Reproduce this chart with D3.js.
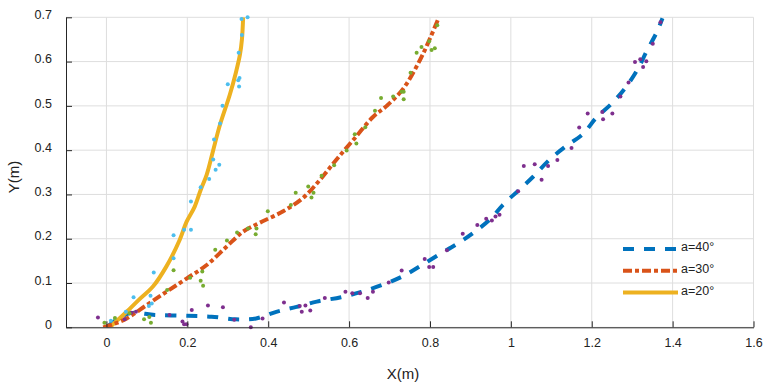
<!DOCTYPE html>
<html>
<head>
<meta charset="utf-8">
<script src="https://cdn.jsdelivr.net/npm/d3@7"></script>
<style>
  body { margin: 0; background: #fff; }
  text { font-family: "Liberation Sans", Arial, sans-serif; fill: #222; }
</style>
</head>
<body>
<svg></svg>
<script>
const width = 765;
const height = 386;

// fitted curves
const blueX = [0.0, 0.03, 0.06, 0.12, 0.2, 0.26, 0.32, 0.37, 0.42, 0.47, 0.52, 0.58, 0.63, 0.68, 0.73, 0.77, 0.82, 0.87, 0.91, 0.95, 0.98, 1.02, 1.055, 1.095, 1.135, 1.18, 1.21, 1.25, 1.285, 1.315, 1.335, 1.36, 1.375];
const blueY = [0.0, 0.02, 0.032, 0.028, 0.026, 0.024, 0.018, 0.02, 0.035, 0.046, 0.058, 0.068, 0.08, 0.095, 0.114, 0.135, 0.163, 0.19, 0.215, 0.245, 0.276, 0.31, 0.34, 0.378, 0.408, 0.438, 0.472, 0.506, 0.543, 0.585, 0.622, 0.665, 0.698];
const orangeX = [-0.008, 0.02, 0.05, 0.099, 0.148, 0.198, 0.247, 0.297, 0.338, 0.379, 0.437, 0.486, 0.528, 0.569, 0.614, 0.659, 0.693, 0.734, 0.775, 0.80, 0.822];
const orangeY = [0, 0.008, 0.02, 0.05, 0.08, 0.11, 0.14, 0.182, 0.216, 0.236, 0.262, 0.292, 0.333, 0.379, 0.427, 0.475, 0.50, 0.539, 0.603, 0.652, 0.70];
const yellowX = [0.008, 0.03, 0.05, 0.08, 0.115, 0.148, 0.181, 0.198, 0.218, 0.233, 0.248, 0.264, 0.280, 0.305, 0.320, 0.330, 0.335, 0.338];
const yellowY = [0, 0.018, 0.035, 0.062, 0.092, 0.137, 0.197, 0.238, 0.272, 0.31, 0.345, 0.40, 0.455, 0.525, 0.575, 0.615, 0.65, 0.70];

// measured points
const purplePts = [[-0.021,0.022],[0.045,0.018],[0.062,0.033],[0.073,0.035],[0.156,0.028],[0.188,0.013],[0.192,0.007],[0.198,0.007],[0.211,0.039],[0.251,0.049],[0.288,0.045],[0.316,0.017],[0.357,0.0],[0.386,0.02],[0.439,0.056],[0.478,0.048],[0.492,0.049],[0.483,0.035],[0.504,0.038],[0.540,0.066],[0.591,0.080],[0.608,0.077],[0.627,0.077],[0.646,0.066],[0.659,0.080],[0.698,0.101],[0.730,0.128],[0.787,0.154],[0.798,0.136],[0.808,0.136],[0.842,0.174],[0.881,0.211],[0.917,0.231],[0.939,0.245],[0.953,0.241],[0.962,0.25],[0.972,0.254],[1.018,0.307],[1.032,0.364],[1.059,0.368],[1.076,0.333],[1.092,0.364],[1.115,0.378],[1.15,0.405],[1.169,0.451],[1.19,0.483],[1.226,0.486],[1.228,0.47],[1.251,0.483],[1.271,0.521],[1.291,0.553],[1.307,0.599],[1.32,0.605],[1.335,0.601],[1.327,0.588],[1.351,0.64],[1.37,0.689]];
const greenPts = [[0.818,0.682],[0.798,0.646],[0.779,0.633],[0.767,0.620],[0.804,0.626],[0.812,0.630],[0.752,0.575],[0.730,0.532],[0.735,0.532],[0.735,0.515],[0.709,0.521],[0.679,0.518],[0.664,0.489],[0.640,0.452],[0.614,0.436],[0.618,0.415],[0.594,0.399],[0.563,0.366],[0.532,0.342],[0.499,0.318],[0.512,0.304],[0.507,0.293],[0.468,0.304],[0.456,0.276],[0.399,0.262],[0.350,0.223],[0.371,0.223],[0.369,0.21],[0.323,0.214],[0.298,0.196],[0.269,0.175],[0.237,0.126],[0.166,0.129],[0.207,0.112],[0.233,0.105],[0.239,0.094],[0.15,0.084],[0.093,0.018],[0.11,0.010],[0.106,0.023],[0.057,0.032],[0.021,0.021],[-0.005,0.010]];
const cyanPts = [[0.349,0.70],[0.334,0.696],[0.335,0.66],[0.327,0.62],[0.329,0.563],[0.326,0.558],[0.300,0.549],[0.328,0.544],[0.287,0.500],[0.281,0.460],[0.266,0.424],[0.264,0.379],[0.279,0.367],[0.270,0.356],[0.254,0.335],[0.233,0.316],[0.209,0.284],[0.192,0.220],[0.209,0.220],[0.166,0.208],[0.166,0.156],[0.117,0.124],[0.067,0.068],[0.109,0.071],[0.112,0.054],[0.105,0.048],[0.048,0.035],[0.011,0.015]];

const xTicks = [0, 0.2, 0.4, 0.6, 0.8, 1, 1.2, 1.4, 1.6];
const yTicks = [0, 0.1, 0.2, 0.3, 0.4, 0.5, 0.6, 0.7];
const legendNames = ['a=40°', 'a=30°', 'a=20°'];

const svg = d3.select('svg').attr('width', width).attr('height', height);
const x = d3.scaleLinear().domain([-0.1, 1.6]).range([66, 753.5]);
const y = d3.scaleLinear().domain([0, 0.7]).range([327.3, 17.3]);

// grid
const grid = svg.append('g').attr('stroke', '#dedede').attr('stroke-width', 1);
grid.selectAll('.vx').data(xTicks).enter().append('line')
  .attr('x1', d => x(d)).attr('x2', d => x(d)).attr('y1', y(0)).attr('y2', y(0.7));
grid.selectAll('.hy').data(yTicks).enter().append('line')
  .attr('x1', x(-0.1)).attr('x2', x(1.6)).attr('y1', d => y(d)).attr('y2', d => y(d));

svg.append('clipPath').attr('id', 'plot').append('rect')
  .attr('x', x(-0.1)).attr('y', y(0.7) - 2).attr('width', x(1.6) - x(-0.1)).attr('height', y(0) - y(0.7) + 2);

const line = d3.line().x(d => x(d[0])).y(d => y(d[1])).curve(d3.curveCatmullRom.alpha(0.5));
const blue = {xs: blueX, ys: blueY, color: '#0072BD', dash: '11,10'};
const orange = {xs: orangeX, ys: orangeY, color: '#D95319', dash: '9,3,4,3'};
const yellow = {xs: yellowX, ys: yellowY, color: '#EDB120', dash: null};

const plot = svg.append('g').attr('clip-path', 'url(#plot)');
[blue, yellow, orange].forEach(c => {
  plot.append('path')
    .datum(c.xs.map((v, i) => [v, c.ys[i]]))
    .attr('d', line)
    .attr('fill', 'none')
    .attr('stroke', c.color)
    .attr('stroke-width', 4)
    .attr('stroke-dasharray', c.dash);
});

[[purplePts, '#7E2F8E'], [greenPts, '#77AC30'], [cyanPts, '#4DBEEE']].forEach(([pts, col]) => {
  svg.append('g').selectAll('circle').data(pts).enter().append('circle')
    .attr('cx', d => x(d[0])).attr('cy', d => y(d[1])).attr('r', 2).attr('fill', col);
});

// axes
const xAxis = svg.append('g').attr('transform', 'translate(0,' + y(0) + ')')
  .call(d3.axisBottom(x).tickValues(xTicks).tickFormat(d3.format('~g')).tickSizeInner(-6).tickSizeOuter(0).tickPadding(11));
const yAxis = svg.append('g').attr('transform', 'translate(' + x(-0.1) + ',0)')
  .call(d3.axisLeft(y).tickValues(yTicks).tickFormat(d3.format('~g')).tickSizeInner(-6).tickSizeOuter(0).tickPadding(14));
[xAxis, yAxis].forEach(a => {
  a.select('.domain').attr('stroke', '#262626');
  a.selectAll('.tick line').attr('stroke', '#262626');
  a.selectAll('text').style('font-size', '12.5px').attr('fill', '#222').style('font-family', '"Liberation Sans", Arial, sans-serif');
});
yAxis.selectAll('text').attr('dy', '0.1em');

svg.append('text').attr('x', 403).attr('y', 378.5).attr('text-anchor', 'middle')
  .style('font-size', '15px').text('X(m)');
svg.append('text').attr('transform', 'translate(18.5,177) rotate(-90)').attr('text-anchor', 'middle')
  .style('font-size', '15px').text('Y(m)');

// legend
const legend = svg.append('g');
[blue, orange, yellow].forEach((c, i) => {
  const ly = 249 + i * 21.8;
  legend.append('line').attr('x1', 623).attr('x2', 678).attr('y1', ly).attr('y2', ly)
    .attr('stroke', c.color).attr('stroke-width', 4).attr('stroke-dasharray', c.dash);
  legend.append('text').attr('x', 681).attr('y', ly + 2).style('font-size', '12.5px').text(legendNames[i]);
});
</script>
</body>
</html>
